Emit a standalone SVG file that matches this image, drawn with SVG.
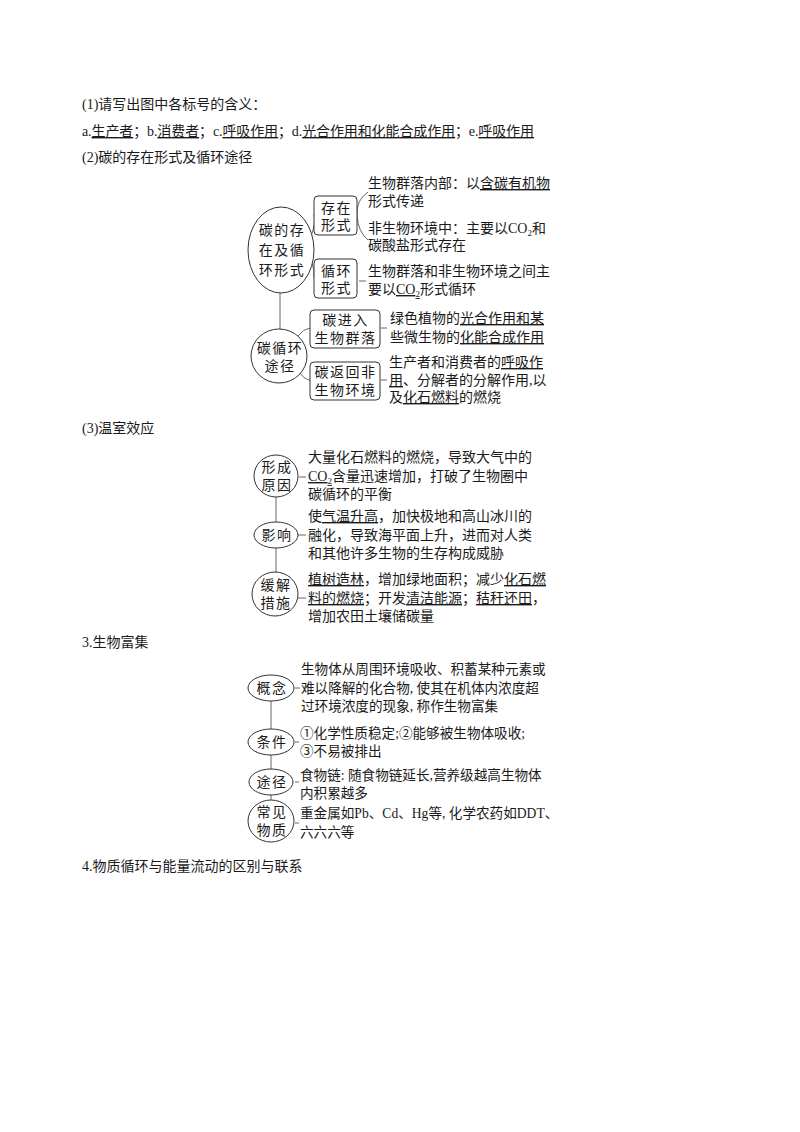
<svg xmlns="http://www.w3.org/2000/svg" width="800" height="1132" viewBox="0 0 800 1132">
<style>
text{font-family:"Liberation Serif","Noto Sans CJK SC",serif;font-size:14px;fill:#1a1a1a}
.c{text-anchor:middle;letter-spacing:1.5px}
.s{font-size:13.6px}
.u{text-decoration:underline}
.sub{font-size:9px}
.n{fill:#fff;stroke:#333;stroke-width:1}
.ln{fill:none;stroke:#666;stroke-width:1}
</style>
<rect width="800" height="1132" fill="#fff"/>
<g id="headings">
<text x="82" y="109">(1)请写出图中各标号的含义：</text>
<text x="82" y="136" textLength="452">a.<tspan class="u">生产者</tspan>；b.<tspan class="u">消费者</tspan>；c.<tspan class="u">呼吸作用</tspan>；d.<tspan class="u">光合作用和化能合成作用</tspan>；e.<tspan class="u">呼吸作用</tspan></text>
<text x="82" y="162">(2)碳的存在形式及循环途径</text>
<text x="82" y="433">(3)温室效应</text>
<text x="82" y="647">3.生物富集</text>
<text x="82" y="871">4.物质循环与能量流动的区别与联系</text>
</g>
<g id="connectors">
<path class="ln" d="M311,236 Q316,224 314,214"/>
<path class="ln" d="M311,260 Q315,270 314,278"/>
<path class="ln" d="M368,192 Q356,200 357,215 Q358,232 368,240"/>
<path class="ln" d="M359,281 H366"/>
<path class="ln" d="M280,293 V329"/>
<path class="ln" d="M298,336 Q303,329 310,328"/>
<path class="ln" d="M300,373 Q305,380 310,380"/>
<path class="ln" d="M381,328 H387"/>
<path class="ln" d="M381,380 H387"/>
<path class="ln" d="M299,477 H306"/>
<path class="ln" d="M276,497 V522"/>
<path class="ln" d="M298,535 H306"/>
<path class="ln" d="M276,548 V572"/>
<path class="ln" d="M298,598 H306"/>
<path class="ln" d="M295,688 H300"/>
<path class="ln" d="M271,701 V729"/>
<path class="ln" d="M295,742 H299"/>
<path class="ln" d="M271,755 V769"/>
<path class="ln" d="M295,782 H299"/>
<path class="ln" d="M271,795 V800"/>
<path class="ln" d="M295,823 H299"/>
</g>
<g id="node-carbon-form">
<ellipse class="n" cx="281" cy="250" rx="33" ry="43"/>
<text class="c" x="282" y="235">碳的存</text>
<text class="c" x="282" y="255">在及循</text>
<text class="c" x="282" y="275">环形式</text>
</g>
<g id="node-exist">
<rect class="n" x="314" y="196" width="43" height="39" rx="4"/>
<text class="c" x="336.5" y="213">存在</text>
<text class="c" x="336.5" y="230">形式</text>
</g>
<g id="node-cycle">
<rect class="n" x="314" y="259" width="43" height="39" rx="4"/>
<text class="c" x="336.5" y="276">循环</text>
<text class="c" x="336.5" y="293">形式</text>
</g>
<g id="text-exist">
<text x="368" y="188">生物群落内部：以<tspan class="u">含碳有机物</tspan></text>
<text x="368" y="206">形式传递</text>
<text x="368" y="233">非生物环境中：主要以CO<tspan class="sub" dy="3">2</tspan><tspan dy="-3">和</tspan></text>
<text x="368" y="250">碳酸盐形式存在</text>
<text x="368" y="276">生物群落和非生物环境之间主</text>
<text x="368" y="294">要以<tspan class="u">CO</tspan><tspan class="sub u" dy="3">2</tspan><tspan dy="-3">形式循环</tspan></text>
</g>
<g id="node-carbon-path">
<ellipse class="n" cx="279" cy="356" rx="28" ry="27"/>
<text class="c" x="280" y="353">碳循环</text>
<text class="c" x="280" y="371">途径</text>
</g>
<g id="node-enter">
<rect class="n" x="310" y="310" width="70" height="38" rx="4"/>
<text class="c" x="345.5" y="325">碳进入</text>
<text class="c" x="345.5" y="343">生物群落</text>
</g>
<g id="node-return">
<rect class="n" x="310" y="362" width="70" height="38" rx="4"/>
<text class="c" x="345.5" y="377">碳返回非</text>
<text class="c" x="345.5" y="395">生物环境</text>
</g>
<g id="text-path">
<text x="390" y="323">绿色植物的<tspan class="u">光合作用和某</tspan></text>
<text x="390" y="342">些微生物的<tspan class="u">化能合成作用</tspan></text>
<text x="389" y="367">生产者和消费者的<tspan class="u">呼吸作</tspan></text>
<text x="389" y="385"><tspan class="u">用</tspan>、分解者的分解作用,以</text>
<text x="389" y="402">及<tspan class="u">化石燃料</tspan>的燃烧</text>
</g>
<g id="node-cause">
<ellipse class="n" cx="276" cy="476" rx="22" ry="21"/>
<text class="c" x="277" y="472">形成</text>
<text class="c" x="277" y="490">原因</text>
<text x="308" y="462">大量化石燃料的燃烧，导致大气中的</text>
<text x="308" y="481"><tspan class="u">CO</tspan><tspan class="sub u" dy="3">2</tspan><tspan dy="-3">含量迅速增加，打破了生物圈中</tspan></text>
<text x="308" y="499">碳循环的平衡</text>
</g>
<g id="node-effect">
<ellipse class="n" cx="276" cy="535" rx="22" ry="13"/>
<text class="c" x="277" y="540">影响</text>
<text x="308" y="521">使<tspan class="u">气温升高</tspan>，加快极地和高山冰川的</text>
<text x="308" y="540">融化，导致海平面上升，进而对人类</text>
<text x="308" y="558">和其他许多生物的生存构成威胁</text>
</g>
<g id="node-measure">
<ellipse class="n" cx="275" cy="594" rx="23" ry="22"/>
<text class="c" x="276" y="590">缓解</text>
<text class="c" x="276" y="608">措施</text>
<text x="308" y="584"><tspan class="u">植树造林</tspan>，增加绿地面积；减少<tspan class="u">化石燃</tspan></text>
<text x="308" y="603"><tspan class="u">料的燃烧</tspan>；开发<tspan class="u">清洁能源</tspan>；<tspan class="u">秸秆还田</tspan>，</text>
<text x="308" y="621">增加农田土壤储碳量</text>
</g>
<g id="node-concept">
<ellipse class="n" cx="271" cy="688" rx="23" ry="13"/>
<text class="c" x="272" y="693">概念</text>
<text class="s" x="301" y="674">生物体从周围环境吸收、积蓄某种元素或</text>
<text class="s" x="301" y="693">难以降解的化合物, 使其在机体内浓度超</text>
<text class="s" x="301" y="711">过环境浓度的现象, 称作生物富集</text>
</g>
<g id="node-condition">
<ellipse class="n" cx="271" cy="742" rx="23" ry="13"/>
<text class="c" x="272" y="747">条件</text>
<text class="s" x="300" y="738">①化学性质稳定;②能够被生物体吸收;</text>
<text class="s" x="300" y="756">③不易被排出</text>
</g>
<g id="node-route">
<ellipse class="n" cx="271" cy="782" rx="22" ry="13"/>
<text class="c" x="272" y="787">途径</text>
<text class="s" x="300" y="780">食物链: 随食物链延长,营养级越高生物体</text>
<text class="s" x="300" y="798">内积累越多</text>
</g>
<g id="node-common">
<ellipse class="n" cx="271" cy="821" rx="23" ry="21"/>
<text class="c" x="272" y="817">常见</text>
<text class="c" x="272" y="835">物质</text>
<text class="s" x="300" y="818">重金属如Pb、Cd、Hg等, 化学农药如DDT、</text>
<text class="s" x="300" y="837">六六六等</text>
</g>
</svg>
